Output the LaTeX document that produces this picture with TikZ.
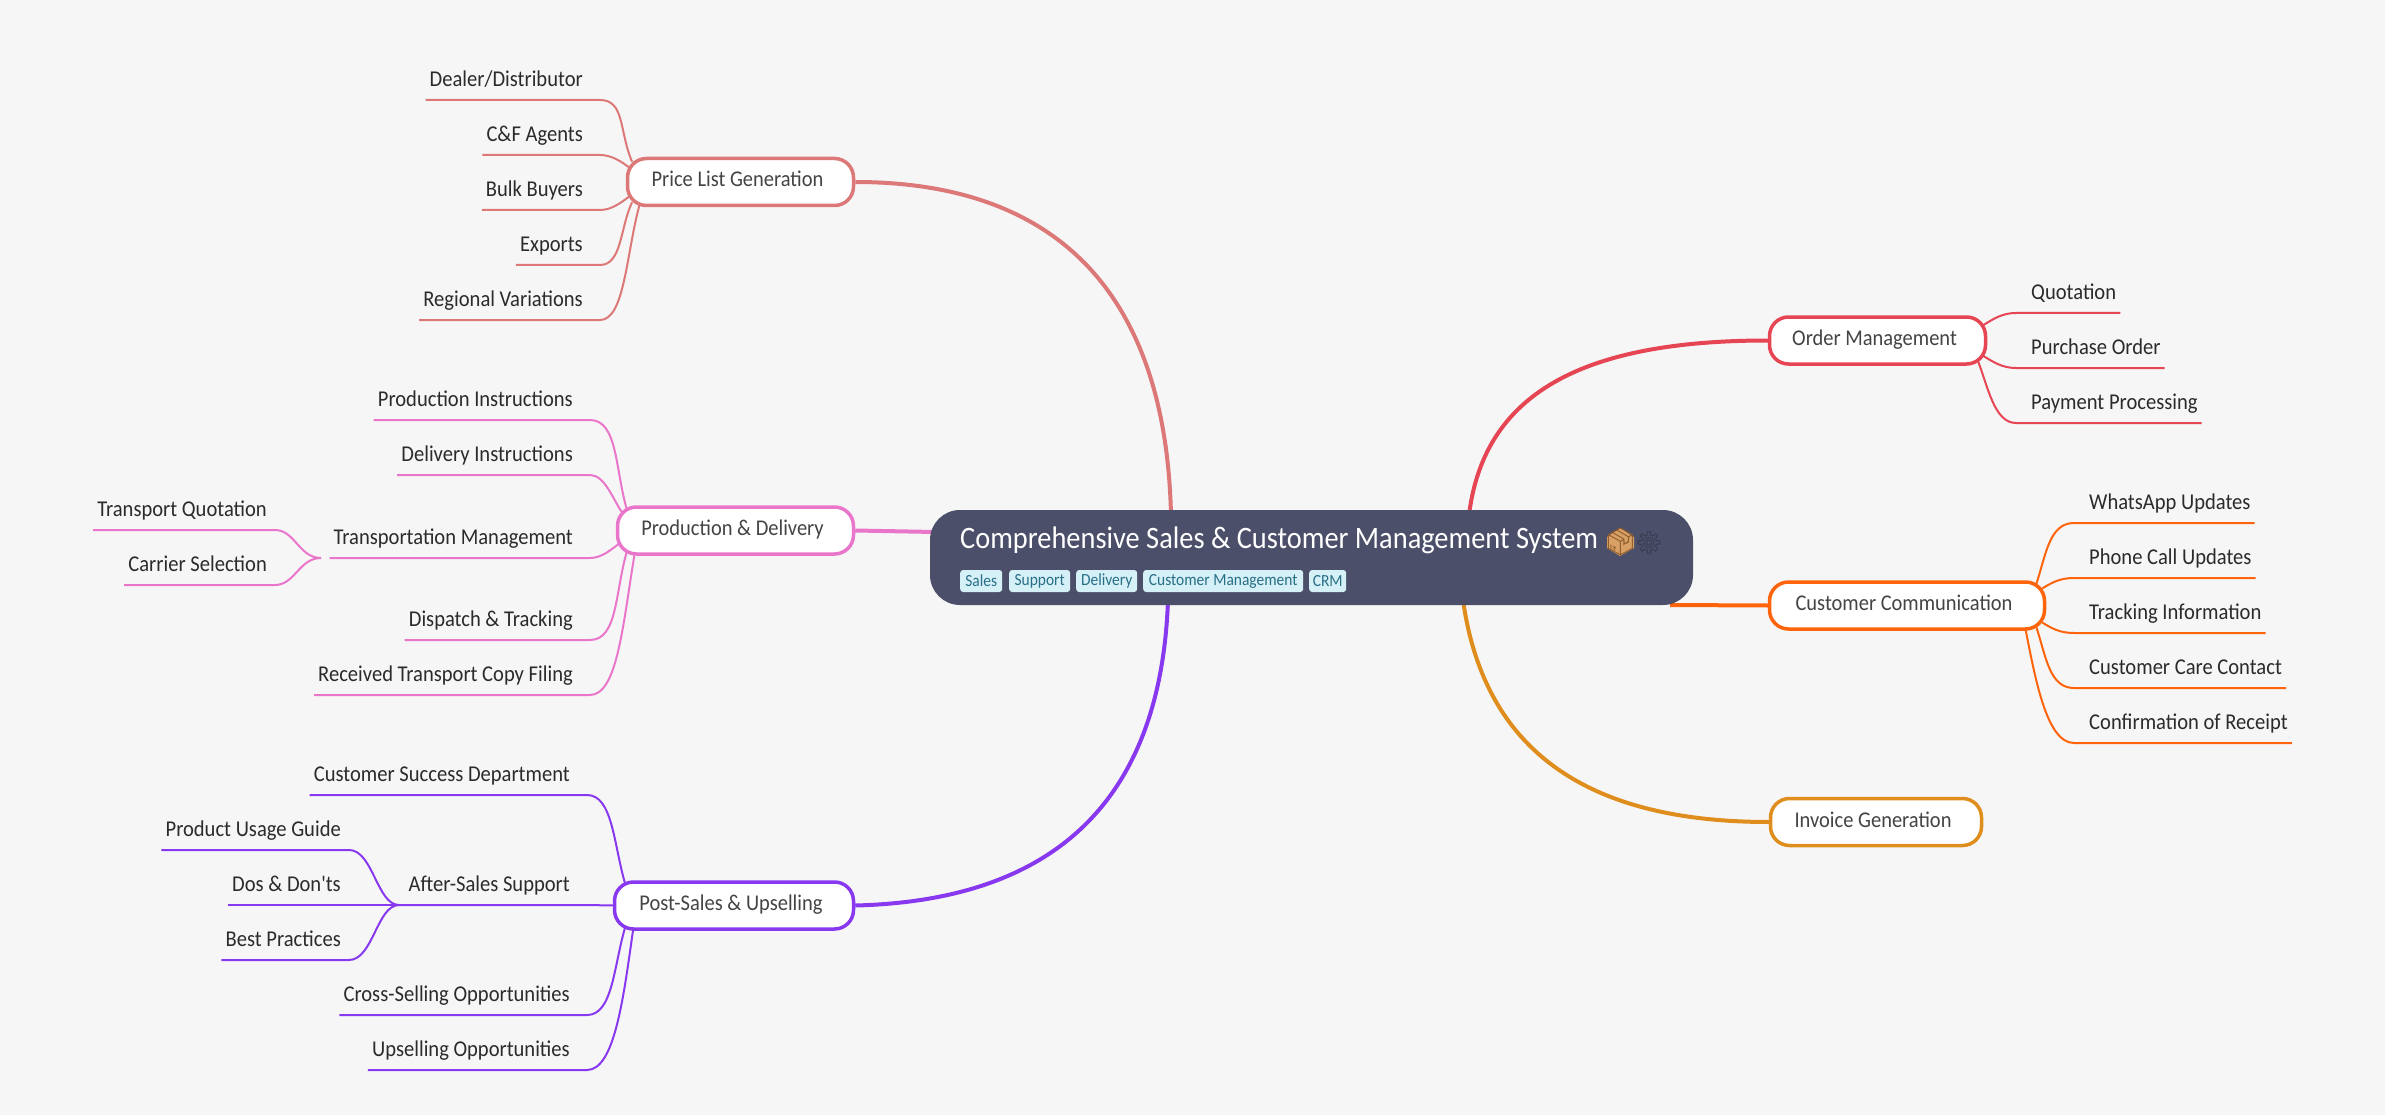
\documentclass[tikz,border=0pt]{standalone}
\usepackage{fontspec}
\setmainfont[FakeStretch=0.91,Ligatures=TeXOff]{Carlito}
\newfontfamily\emojifont{Noto Emoji}
\usetikzlibrary{backgrounds}
\definecolor{canvascol}{HTML}{F6F6F6}
\definecolor{rootcol}{HTML}{4C4F69}
\definecolor{tagcol}{HTML}{D6F0F8}
\definecolor{tagtext}{HTML}{276F86}
\definecolor{leaftext}{HTML}{2B2B2B}
\definecolor{nodetext}{HTML}{444444}
\definecolor{pricecol}{HTML}{DD7878}
\definecolor{prodcol}{HTML}{EA76CB}
\definecolor{postcol}{HTML}{8839EF}
\definecolor{ordercol}{HTML}{E64553}
\definecolor{commcol}{HTML}{FE640B}
\definecolor{invcol}{HTML}{DF8E1D}
\definecolor{boxfill}{HTML}{D9A066}
\definecolor{boxline}{HTML}{8A5A2B}
\definecolor{gearcol}{HTML}{35374A}
\tikzset{
	branchbox/.style={draw=#1, fill=white, line width=3.5pt, rounded corners=19pt, minimum height=47pt, inner sep=0pt, text=nodetext, text height=16pt, text depth=6pt, font=\fontsize{22.5}{23}\selectfont, execute at end node={\hskip6pt}},
	leafleft/.style={anchor=south east, inner sep=0pt, text=leaftext, text height=16pt, text depth=13.5pt, font=\fontsize{22.6}{23}\selectfont, execute at begin node={\hskip4pt}, execute at end node={\hskip#1}},
	leafleft/.default=17pt,
	leafright/.style={anchor=south west, inner sep=0pt, text=leaftext, text height=16pt, text depth=13.5pt, font=\fontsize{22.6}{23}\selectfont, execute at begin node={\hskip15pt}, execute at end node={\hskip4pt}},
	tagbox/.style={fill=tagcol, text=tagtext, anchor=west, rounded corners=3pt, minimum height=22pt, inner sep=0pt, font=\fontsize{17}{18}\selectfont},
	limb/.style={line width=4pt},
	twig/.style={line width=2pt},
}
\begin{document}
\begin{tikzpicture}[x=1pt,y=-1pt]
	\useasboundingbox (0,0) rectangle (2385,1115);
	% root
	\node[fill=rootcol, rounded corners=30pt, minimum width=763pt, minimum height=95pt] (root) at (1311.5,557.5) {};
	\node[anchor=base west, inner sep=0pt, text=white, font=\fontsize{31.2}{31}\selectfont] (title) at (960,548) {Comprehensive Sales \& Customer Management System};
	\fill[boxfill] (1607,537) -- (1620,528) -- (1634,537) -- (1634,548) -- (1620,556) -- (1607,548) -- cycle;
	\node[inner sep=0pt, text=boxline, font=\fontsize{27}{27}\selectfont\emojifont] (boxicon) at (1620.5,542) {📦};
	\node[inner sep=0pt, text=gearcol, font=\fontsize{22}{22}\selectfont\emojifont] (gearicon) at (1649,542.5) {⚙};
	\node[tagbox, minimum width=42pt] (tagsales) at (960,581) {Sales};
	\node[tagbox, minimum width=61pt] (tagsupport) at (1009,581) {Support};
	\node[tagbox, minimum width=61pt] (tagdelivery) at (1076,581) {Delivery};
	\node[tagbox, minimum width=160pt] (tagcustomer) at (1143,581) {Customer Management};
	\node[tagbox, minimum width=37pt] (tagcrm) at (1309,581) {CRM};
	% branches
	\node[branchbox=pricecol, minimum width=226pt] (price) at (740.5,182) {Price List Generation};
	\node[branchbox=prodcol, minimum width=236pt] (prod) at (735.5,530.5) {Production \& Delivery};
	\node[branchbox=postcol, minimum width=239pt] (post) at (734,905.5) {Post-Sales \& Upselling};
	\node[branchbox=ordercol, minimum width=216pt] (order) at (1877.5,340.5) {Order Management};
	\node[branchbox=commcol, minimum width=275pt] (comm) at (1907,605.5) {Customer Communication};
	\node[branchbox=invcol, minimum width=211pt] (invoice) at (1876,822) {Invoice Generation};
	% leaves
	\node[leafleft] (dealer) at (600,100) {Dealer/Distributor};
	\node[leafleft] (agents) at (600,155) {C\&F Agents};
	\node[leafleft] (bulk) at (600,210) {Bulk Buyers};
	\node[leafleft] (exports) at (600,265) {Exports};
	\node[leafleft] (regional) at (600,320) {Regional Variations};
	\node[leafleft] (prodinstr) at (590,420) {Production Instructions};
	\node[leafleft] (delinstr) at (590,475) {Delivery Instructions};
	\node[leafleft] (transmgmt) at (590,558) {Transportation Management};
	\node[leafleft=8pt] (transquot) at (275,530) {Transport Quotation};
	\node[leafleft=8pt] (carrier) at (275,585) {Carrier Selection};
	\node[leafleft] (dispatch) at (590,640) {Dispatch \& Tracking};
	\node[leafleft] (filing) at (590,695) {Received Transport Copy Filing};
	\node[leafleft] (success) at (587,795) {Customer Success Department};
	\node[leafleft] (aftersales) at (587,905) {After-Sales Support};
	\node[leafleft=8pt] (guide) at (349,850) {Product Usage Guide};
	\node[leafleft=8pt] (dos) at (349,905) {Dos \& Don'ts};
	\node[leafleft=8pt] (practices) at (349,960) {Best Practices};
	\node[leafleft] (cross) at (587,1015) {Cross-Selling Opportunities};
	\node[leafleft] (upsell) at (587,1070) {Upselling Opportunities};
	\node[leafright] (quotation) at (2016,313) {Quotation};
	\node[leafright] (purchase) at (2016,368) {Purchase Order};
	\node[leafright] (payment) at (2016,423) {Payment Processing};
	\node[leafright] (whatsapp) at (2074,523) {WhatsApp Updates};
	\node[leafright] (phone) at (2074,578) {Phone Call Updates};
	\node[leafright] (tracking) at (2074,633) {Tracking Information};
	\node[leafright] (care) at (2074,688) {Customer Care Contact};
	\node[leafright] (receipt) at (2074,743) {Confirmation of Receipt};
	% free ends on the root
	\coordinate (rootprice) at (1171,515);
	\coordinate (rootprod) at (935,532);
	\coordinate (rootpost) at (1168,600);
	\coordinate (rootorder) at (1469,515);
	\coordinate (rootcomm) at (1670,605);
	\coordinate (rootinv) at (1463,600);
	\coordinate (forktrans) at (321,558);
	\coordinate (forksupport) at (399,905);
	\begin{pgfonlayer}{background}
		\fill[canvascol] (0,0) rectangle (2385,1115);
		\draw[limb, pricecol] (price.east) .. controls +(205,0) and +(-5,-218) .. (rootprice);
		\draw[limb, prodcol] (prod.east) -- (rootprod);
		\draw[limb, postcol] (post.east) .. controls +(202,-5) and +(-7,198) .. (rootpost);
		\draw[limb, ordercol] (order.west) .. controls +(-185,0) and +(15,-122) .. (rootorder);
		\draw[limb, commcol] (comm.west) -- (rootcomm);
		\draw[limb, invcol] (invoice.west) .. controls +(-183,0) and +(21,150) .. (rootinv);
		\draw[twig, pricecol] (dealer.south west) -- (dealer.south east) .. controls +(25,0) and +(-13,-30) .. ([shift={(1,5)}]price.167);
		\draw[twig, pricecol] (agents.south west) -- (agents.south east) .. controls +(12,0) and +(-8,-6) .. ([shift={(4,0)}]price.173);
		\draw[twig, pricecol] (bulk.south west) -- (bulk.south east) .. controls +(12,0) and +(-8,6) .. ([shift={(4,0)}]price.187);
		\draw[twig, pricecol] (exports.south west) -- (exports.south east) .. controls +(22,0) and +(-12,25) .. ([shift={(1,-5)}]price.193);
		\draw[twig, pricecol] (regional.south west) -- (regional.south east) .. controls +(25,0) and +(-14,50) .. ([shift={(1,-5)}]price.194);
		\draw[twig, prodcol] (prodinstr.south west) -- (prodinstr.south east) .. controls +(28,0) and +(-12,-40) .. ([shift={(1,5)}]prod.167);
		\draw[twig, prodcol] (delinstr.south west) -- (delinstr.south east) .. controls +(15,0) and +(-10,-14) .. ([shift={(7,4)}]prod.170);
		\draw[twig, prodcol] (transmgmt.south west) -- (transmgmt.south east) .. controls +(12,0) and +(-8,6) .. ([shift={(4,0)}]prod.186);
		\draw[twig, prodcol] (dispatch.south west) -- (dispatch.south east) .. controls +(28,0) and +(-12,40) .. ([shift={(1,-5)}]prod.193);
		\draw[twig, prodcol] (filing.south west) -- (filing.south east) .. controls +(28,0) and +(-12,70) .. ([shift={(1,-5)}]prod.194);
		\draw[twig, prodcol] (transquot.south west) -- (transquot.south east) .. controls +(20,0) and +(-22,0) .. (forktrans);
		\draw[twig, prodcol] (carrier.south west) -- (carrier.south east) .. controls +(20,0) and +(-22,0) .. (forktrans);
		\draw[twig, postcol] (success.south west) -- (success.south east) .. controls +(26,0) and +(-12,-40) .. ([shift={(1,5)}]post.167);
		\draw[twig, postcol] (forksupport) -- (aftersales.south east) -- (post.west);
		\draw[twig, postcol] (cross.south west) -- (cross.south east) .. controls +(26,0) and +(-12,40) .. ([shift={(1,-5)}]post.193);
		\draw[twig, postcol] (upsell.south west) -- (upsell.south east) .. controls +(28,0) and +(-10,70) .. ([shift={(1,-5)}]post.194);
		\draw[twig, postcol] (guide.south west) -- (guide.south east) .. controls +(24,0) and +(-22,0) .. (forksupport);
		\draw[twig, postcol] (dos.south west) -- (forksupport);
		\draw[twig, postcol] (practices.south west) -- (practices.south east) .. controls +(24,0) and +(-22,0) .. (forksupport);
		\draw[twig, ordercol] (quotation.south east) -- (quotation.south west) .. controls +(-14,0) and +(10,-6) .. ([shift={(-4,0)}]order.8);
		\draw[twig, ordercol] (purchase.south east) -- (purchase.south west) .. controls +(-14,0) and +(10,6) .. ([shift={(-4,0)}]order.352);
		\draw[twig, ordercol] (payment.south east) -- (payment.south west) .. controls +(-22,0) and +(10,25) .. ([shift={(-1,-5)}]order.346);
		\draw[twig, commcol] (whatsapp.south east) -- (whatsapp.south west) .. controls +(-25,0) and +(10,-30) .. ([shift={(-1,5)}]comm.11);
		\draw[twig, commcol] (phone.south east) -- (phone.south west) .. controls +(-14,0) and +(10,-6) .. ([shift={(-4,0)}]comm.7);
		\draw[twig, commcol] (tracking.south east) -- (tracking.south west) .. controls +(-14,0) and +(10,6) .. ([shift={(-4,0)}]comm.353);
		\draw[twig, commcol] (care.south east) -- (care.south west) .. controls +(-25,0) and +(10,30) .. ([shift={(-1,-5)}]comm.349);
		\draw[twig, commcol] (receipt.south east) -- (receipt.south west) .. controls +(-28,0) and +(10,50) .. ([shift={(-1,-5)}]comm.348);
	\end{pgfonlayer}
\end{tikzpicture}
\end{document}
